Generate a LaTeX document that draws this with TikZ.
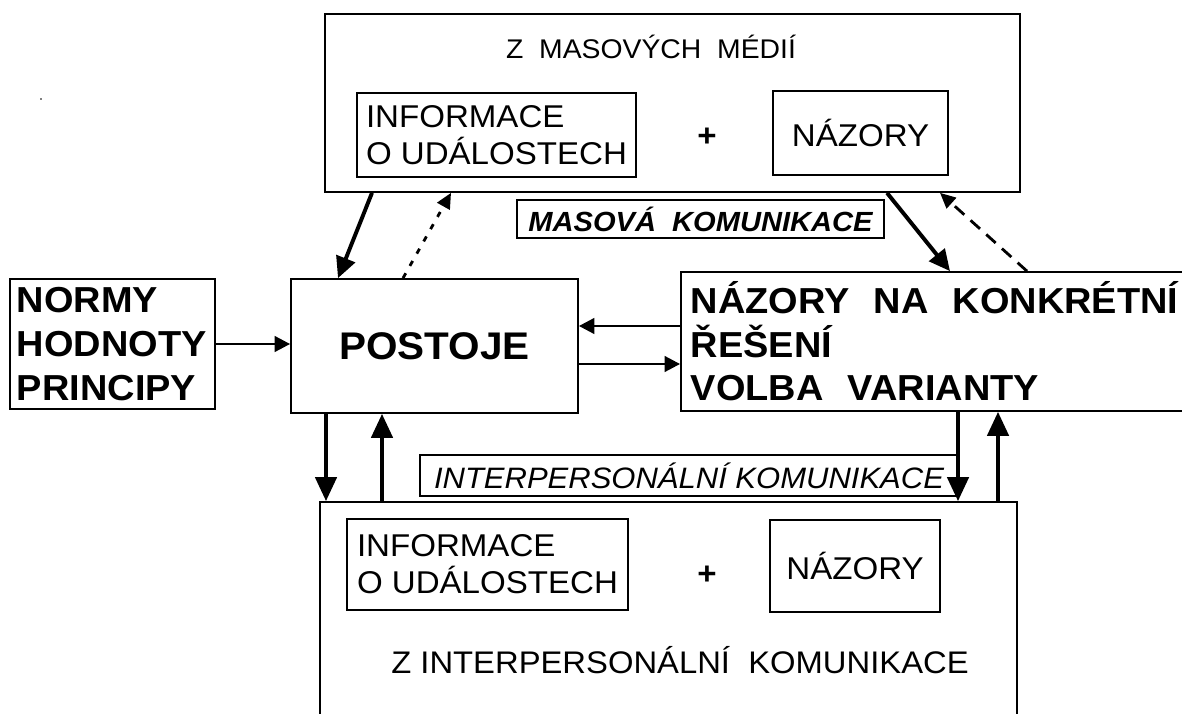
\documentclass[tikz,border=0pt]{standalone}
\usepackage{fontspec}
\setmainfont[FakeStretch=1.05]{Liberation Sans}
\usetikzlibrary{arrows.meta}

\begin{document}
\begin{tikzpicture}[x=0.025cm, y=-0.025cm,
  box/.style={draw, line width=1.2pt, inner sep=0pt},
  tagbox/.style={draw, line width=1pt, inner sep=0pt},
  bigtxt/.style={font=\fontsize{25.7}{31}\selectfont\bfseries},
  midtxt/.style={font=\fontsize{22.4}{26.3}\selectfont},
  plustxt/.style={font=\fontsize{22.4}{26.3}\selectfont\bfseries},
  harr/.style={line width=2pt, -{Triangle[length=11pt,width=11pt]}},
  varr/.style={line width=2.8pt, -{Triangle[length=17pt,width=15pt]}},
  sarr/.style={line width=2.8pt, -{Triangle[length=15pt,width=14pt]}},
  dotarr/.style={line width=2pt, dash pattern=on 4pt off 6pt, -{Triangle[length=11pt,width=10pt]}},
  dasharr/.style={line width=2pt, dash pattern=on 9pt off 6pt, -{Triangle[length=11pt,width=10pt]}}]
  \clip (0,0) rectangle (1182,714);
  \fill[white] (0,0) rectangle (1182,714);
  \fill[gray] (40,98) rectangle (42,100);

  % mass media
  \node[box, minimum width=17.375cm, minimum height=4.45cm] (medie) at (672.5,103) {};
  \node[font=\fontsize{19.2}{22}\selectfont] (medietit) at (651,47) {Z\ \ MASOVÝCH\ \ MÉDIÍ};
  \node[box, midtxt, align=left, minimum width=6.975cm, minimum height=2.1cm] (info1) at (496.5,135) {INFORMACE\\O UDÁLOSTECH};
  \node[plustxt] (plus1) at (707,137) {+};
  \node[box, midtxt, minimum width=4.375cm, minimum height=2.1cm] (naz1) at (860.5,133) {NÁZORY};
  \node[tagbox, font=\fontsize{19.7}{22}\selectfont\bfseries\itshape, minimum width=9.175cm, minimum height=0.95cm] (maskom) at (700.5,219) {MASOVÁ\ \ KOMUNIKACE};

  % middle row
  \node[box, bigtxt, align=left, text width=4.775cm, inner xsep=0.175cm, minimum height=3.25cm] (normy) at (112.5,344) {NORMY\\HODNOTY\\PRINCIPY};
  \node[box, font=\fontsize{27.4}{32}\selectfont\bfseries, minimum width=7.175cm, minimum height=3.35cm] (postoje) at (434.5,346) {POSTOJE};
  \node[box, bigtxt, align=left, text width=12.475cm, inner xsep=0.25cm, minimum height=3.475cm] (volba) at (940.5,341.5) {NÁZORY\ \ NA\ \ KONKRÉTNÍ\\ŘEŠENÍ\\VOLBA\ \ VARIANTY};

  % interpersonal
  \node[tagbox, font=\fontsize{21}{24}\selectfont\itshape, minimum width=13.45cm, minimum height=1.025cm] (intkom) at (689,475.5) {INTERPERSONÁLNÍ KOMUNIKACE};
  \node[box, minimum width=17.425cm, minimum height=5.95cm] (interp) at (668.5,621) {};
  \node[box, midtxt, align=left, minimum width=7.025cm, minimum height=2.275cm] (info2) at (487.5,564.5) {INFORMACE\\O UDÁLOSTECH};
  \node[plustxt] (plus2) at (707,575) {+};
  \node[box, midtxt, minimum width=4.25cm, minimum height=2.3cm] (naz2) at (855,566) {NÁZORY};
  \node[font=\fontsize{22.2}{25}\selectfont] (interptit) at (680,660) {Z INTERPERSONÁLNÍ\ \ KOMUNIKACE};

  % arrows
  \draw[harr] (normy.east) -- (normy.east -| postoje.west);
  \draw[harr] (volba.west |- 0,326) -- (postoje.east |- 0,326);
  \draw[harr] (postoje.east |- 0,364) -- (volba.west |- 0,364);
  \draw[varr] (postoje.south -| 326,0) -- (interp.north -| 326,0);
  \draw[varr] (interp.north -| 382,0) -- (postoje.south -| 382,0);
  \draw[varr] (volba.south -| 958,0) -- (interp.north -| 958,0);
  \draw[varr] (interp.north -| 998,0) -- (volba.south -| 998,0);
  \draw[sarr] (medie.south -| 372,0) -- (postoje.north -| 338,0);
  \draw[dotarr] (postoje.north -| 403,0) -- (medie.south -| 451,0);
  \draw[sarr] (medie.south -| 887,0) -- (volba.north -| 950,0);
  \draw[dasharr] (volba.north -| 1027,0) -- (medie.south -| 940,0);
\end{tikzpicture}
\end{document}
